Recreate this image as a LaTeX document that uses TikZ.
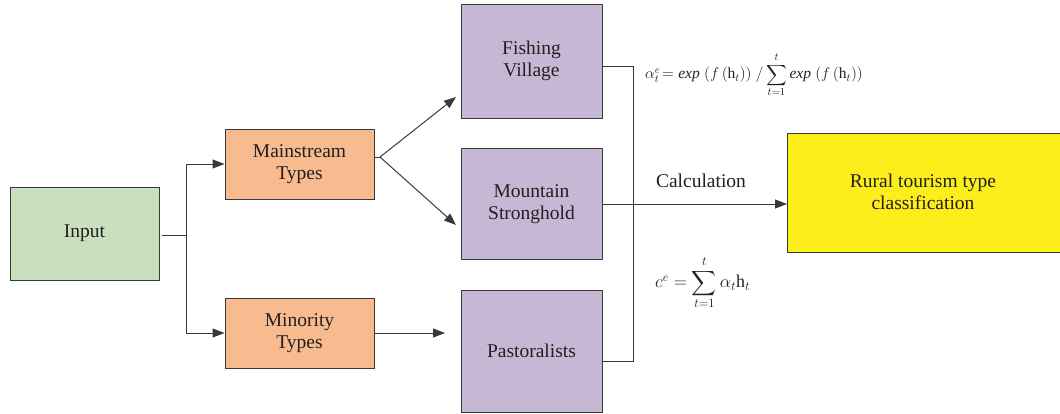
\RequirePackage{fix-cm}
\documentclass[tikz,border=0pt]{standalone}
\usepackage{amsmath}
\usepackage{fontspec}
\setmainfont{Liberation Serif}
\usetikzlibrary{arrows.meta}
\definecolor{cgreen}{HTML}{C9E0BE}
\definecolor{corange}{HTML}{F8BA8F}
\definecolor{cpurple}{HTML}{C6B8D5}
\definecolor{cyellow}{HTML}{FCEE1A}
\definecolor{cedge}{HTML}{3A3A3A}
\definecolor{ctext}{HTML}{231F20}
\tikzset{
  box/.style={draw=cedge, line width=1pt, rectangle, align=center, text=ctext,
    font=\fontsize{19.5}{22.5}\selectfont, inner sep=0pt},
  conn/.style={draw=cedge, line width=1pt},
  arr/.style={conn, -{Triangle[length=12pt,width=9pt]}},
}
\begin{document}
\begin{tikzpicture}[x=1pt,y=-1pt]
\useasboundingbox (0,0) rectangle (1060,413);
\node[box, fill=cgreen, minimum width=149pt, minimum height=93pt] (input) at (84.5,233.5) {Input};
\node[box, fill=corange, minimum width=149pt, minimum height=70pt] (main) at (299.5,164) {Mainstream\\Types};
\node[box, fill=corange, minimum width=149pt, minimum height=70pt] (mino) at (299.5,333) {Minority\\Types};
\node[box, fill=cpurple, minimum width=141pt, minimum height=114pt] (fish) at (531.5,61) {Fishing\\Village};
\node[box, fill=cpurple, minimum width=141pt, minimum height=111pt] (mount) at (531.5,204) {Mountain\\Stronghold};
\node[box, fill=cpurple, minimum width=141pt, minimum height=122pt] (past) at (531.5,351) {Pastoralists};
\node[box, fill=cyellow, minimum width=280pt, minimum height=119pt, anchor=west] (rural) at (787,192.5) {};
\node[text=ctext, font=\fontsize{19.5}{22.5}\selectfont, align=center] (ruraltext) at (923,192) {Rural tourism type\\classification};

\coordinate (split) at (186,235);
\coordinate (mid) at (380,157);
\coordinate (join) at (633,204);

\draw[conn] (input.east |- split) ++(2,0) -- (split);
\draw[arr] (split) |- (main.west);
\draw[arr] (split) |- (mino.west);
\draw[conn] (main.east |- mid) -- (mid);
\draw[arr] (mid) -- (456,97);
\draw[arr] (mid) -- (456,225);
\draw[arr] (mino.east) -- (445,333);

\draw[conn] (fish.east |- 0,66) -| (join);
\draw[conn] (past.east |- 0,361) -| (join);
\draw[conn] (mount.east |- join) -- (join);
\draw[arr] (join) -- (rural.west |- join);

\node[text=ctext, font=\fontsize{19.5}{22.5}\selectfont] (calc) at (701,181) {Calculation};
\node[text=ctext, font=\fontsize{15.5}{17.5}\selectfont, anchor=west, inner sep=0pt] (f1) at (645,75)
  {$\alpha_t^e\!= \mathit{exp}\;(f\,(\mathrm{h}_t))\;/\displaystyle\sum_{t=1}^{t}\mathit{exp}\;(f\,(\mathrm{h}_t))$};
\node[text=ctext, font=\fontsize{18}{20}\selectfont, anchor=west, inner sep=0pt] (f2) at (655,283)
  {$c^e = \displaystyle\sum_{t=1}^{t}\alpha_t\mathrm{h}_t$};
\end{tikzpicture}
\end{document}
